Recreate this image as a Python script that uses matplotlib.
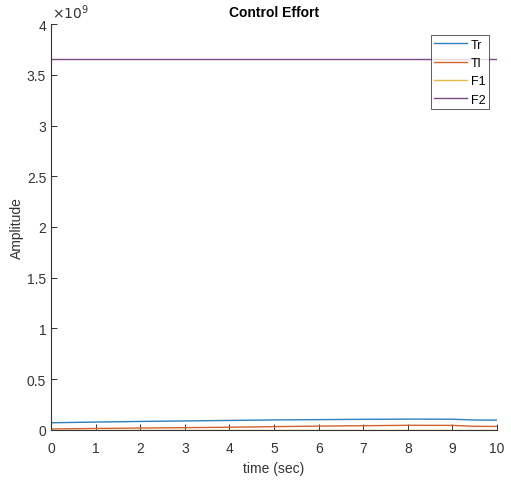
import matplotlib
matplotlib.use("Agg")
from matplotlib import pyplot as plt
from matplotlib.ticker import FuncFormatter

plt.rcParams["font.family"] = ["Liberation Sans", "DejaVu Sans"]

# time axis (sec)
t = [0, 1, 2, 3, 4, 5, 6, 7, 8, 9, 9.5, 10]

# control signals (units of 1e9)
tr = [0.071, 0.078, 0.084, 0.089, 0.094, 0.099, 0.102, 0.105, 0.107, 0.106, 0.098, 0.097]
tl = [0.010, 0.015, 0.019, 0.023, 0.027, 0.033, 0.038, 0.042, 0.046, 0.045, 0.036, 0.035]
f1 = [0.003, 0.003, 0.003, 0.003, 0.003, 0.003, 0.003, 0.003, 0.003, 0.003, 0.003, 0.003]
f2 = [3.656] * len(t)

labels = ["Tr", "Tl", "F1", "F2"]
colors = ["#2f7fba", "#d2622f", "#e8b84a", "#7a4a85"]

fig = plt.figure(figsize=(5.11, 4.81), dpi=100)
ax = fig.add_axes([0.0998, 0.104, 0.873, 0.844])

for y, lab, c in zip([tr, tl, f1, f2], labels, colors):
    ax.plot(t, [v * 1e9 for v in y], color=c, lw=1.0, label=lab)

ax.set_xlim(0, 10)
ax.set_ylim(0, 4e9)
ax.set_xticks(range(0, 11))
ax.set_yticks([i * 0.5e9 for i in range(9)])
ax.yaxis.set_major_formatter(FuncFormatter(lambda v, p: "%g" % (v / 1e9)))
ax.text(0.003, 1.008, r"$\times10^{9}$", transform=ax.transAxes,
        fontsize=10, color="#333333", ha="left", va="bottom")

for s in ["top", "right"]:
    ax.spines[s].set_visible(False)
for s in ["left", "bottom"]:
    ax.spines[s].set_color("#333333")
    ax.spines[s].set_linewidth(0.8)
ax.tick_params(direction="in", length=4, width=0.7, colors="#333333",
               labelsize=10, labelcolor="#333333")
ax.tick_params(axis="x", pad=8)

ax.set_xlabel("time (sec)", fontsize=10, color="#333333", labelpad=4)
ax.set_ylabel("Amplitude", fontsize=10, color="#333333", labelpad=2)
ax.set_title("Control Effort", fontsize=10, fontweight="bold", pad=6)

leg = ax.legend(loc="upper right", bbox_to_anchor=(489 / 511, 1 - 36 / 481),
                bbox_transform=fig.transFigure, fontsize=9, frameon=True,
                fancybox=False, edgecolor="#333333", handlelength=2.6,
                handletextpad=0.3, borderpad=0.3, labelspacing=0.5,
                borderaxespad=0)
leg.get_frame().set_linewidth(0.7)

fig.savefig("out.png", dpi=100)
